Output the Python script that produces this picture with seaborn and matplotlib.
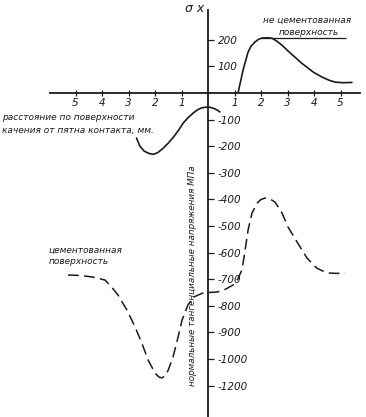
import matplotlib
matplotlib.use("Agg")
import matplotlib.pyplot as plt
import seaborn as sns

# не цементованная поверхность (сплошная линия), два участка
x_left = [-2.7, -2.57, -2.4, -2.2, -2.05, -1.9, -1.7, -1.5, -1.3, -1.1, -0.94, -0.75,
          -0.56, -0.4, -0.25, -0.1, 0.05, 0.2, 0.35, 0.45]
y_left = [-169, -200, -219, -228, -230, -224, -208, -188, -165, -138, -113, -92,
          -75, -63, -56, -53, -53, -57, -64, -71]
x_right = [1.13, 1.23, 1.32, 1.42, 1.51, 1.62, 1.77, 1.9, 2.04, 2.25, 2.42, 2.6, 2.79,
           3.0, 3.28, 3.5, 3.77, 4.0, 4.3, 4.55, 4.8, 5.1, 5.43]
y_right = [0, 45, 86, 122, 154, 176, 192, 202, 207, 208, 206, 195, 180,
           160, 135, 115, 94, 77, 60, 49, 41, 39, 40]

# цементованная поверхность (штриховая линия)
x_cem = [-5.28, -4.8, -4.34, -3.89, -3.7, -3.4, -3.06, -2.75, -2.5, -2.26, -2.0, -1.85,
         -1.74, -1.6, -1.5, -1.32, -1.13, -0.98, -0.75, -0.5, -0.2, 0.0, 0.34, 0.65,
         0.94, 1.12, 1.28, 1.4, 1.51, 1.66, 1.85, 2.0, 2.15, 2.35, 2.53, 2.79, 3.02,
         3.36, 3.73, 4.1, 4.35, 4.6, 4.9, 5.17]
y_cem = [-684, -686, -692, -703, -722, -759, -816, -880, -940, -1004, -1053, -1068,
         -1071, -1062, -1041, -992, -917, -853, -795, -765, -752, -750, -748, -738,
         -722, -700, -665, -590, -515, -451, -414, -400, -395, -399, -410, -451, -504,
         -560, -620, -658, -670, -677, -678, -677]

x_ticks = [-5, -4, -3, -2, -1, 1, 2, 3, 4, 5]
x_labels = ['5', '4', '3', '2', '1', '1', '2', '3', '4', '5']
y_ticks = [200, 100, -100, -200, -300, -400, -500, -600, -700, -800, -900, -1000, -1100]
y_labels = ['200', '100', '-100', '-200', '-300', '-400', '-500', '-600', '-700',
            '-800', '-900', '-1000', '-1200']

sns.set_style("white")
plt.rcParams['font.family'] = ['DejaVu Sans']

ink = '#1a1a1a'
fig = plt.figure(figsize=(3.66, 4.17), dpi=100)
ax = fig.add_axes([0, 0, 1, 1])
ax.patch.set_alpha(0)

sns.lineplot(x=x_left, y=y_left, color=ink, lw=1.2, sort=False, ax=ax)
sns.lineplot(x=x_right, y=y_right, color=ink, lw=1.2, sort=False, ax=ax)
sns.lineplot(x=x_cem, y=y_cem, color=ink, lw=1.1, sort=False, ax=ax,
             linestyle=(0, (7, 3.5)))
for ln in ax.lines:
    ln.set_solid_joinstyle('round')

# выноска к надписи
ax.hlines(207, 2.0, 5.2, color=ink, lw=0.9)

ax.set_xlim(-7.85, 5.96)
ax.set_ylim(-1218, 350)

for s in ['top', 'left']:
    ax.spines[s].set_visible(False)
ax.spines['bottom'].set_position(('data', 0))
ax.spines['bottom'].set_bounds(-5.96, 5.74)
ax.spines['right'].set_position(('data', 0))
ax.spines['right'].set_bounds(-1218, 312)
for s in ['bottom', 'right']:
    ax.spines[s].set_color(ink)
    ax.spines[s].set_linewidth(1.3)

ax.yaxis.tick_right()
ax.xaxis.tick_bottom()
ax.set_xticks(x_ticks)
ax.set_xticklabels(x_labels, fontstyle='italic', fontsize=7.5, color=ink)
ax.set_yticks(y_ticks)
ax.set_yticklabels(y_labels, fontstyle='italic', fontsize=7.5, color=ink)
ax.tick_params(axis='x', direction='inout', length=5, width=0.9, pad=1, colors=ink)
ax.tick_params(axis='y', direction='out', length=4, width=0.9, pad=3, colors=ink)
ax.set_xlabel('')
ax.set_ylabel('')

ax.text(-0.5, 318, 'σ x', fontsize=9, fontstyle='italic', color=ink, ha='center', va='center')
ax.text(3.74, 274, 'не цементованная', fontsize=6.5, fontstyle='italic', color=ink,
        ha='center', va='center')
ax.text(3.78, 228, 'поверхность', fontsize=6.5, fontstyle='italic', color=ink,
        ha='center', va='center')
ax.text(-7.78, -90, 'расстояние по поверхности', fontsize=6.5, fontstyle='italic',
        color=ink, ha='left', va='center')
ax.text(-7.78, -140, 'качения от пятна контакта, мм.', fontsize=6.5, fontstyle='italic',
        color=ink, ha='left', va='center')
ax.text(-6.0, -592, 'цементованная', fontsize=6.5, fontstyle='italic', color=ink,
        ha='left', va='center')
ax.text(-6.0, -635, 'поверхность', fontsize=6.5, fontstyle='italic', color=ink,
        ha='left', va='center')
ax.text(-0.6, -685, 'нормальные тангенциальные напряжения МПа', fontsize=6.3,
        fontstyle='italic', color=ink, rotation=90, ha='center', va='center')

fig.savefig('out.png', dpi=100)
